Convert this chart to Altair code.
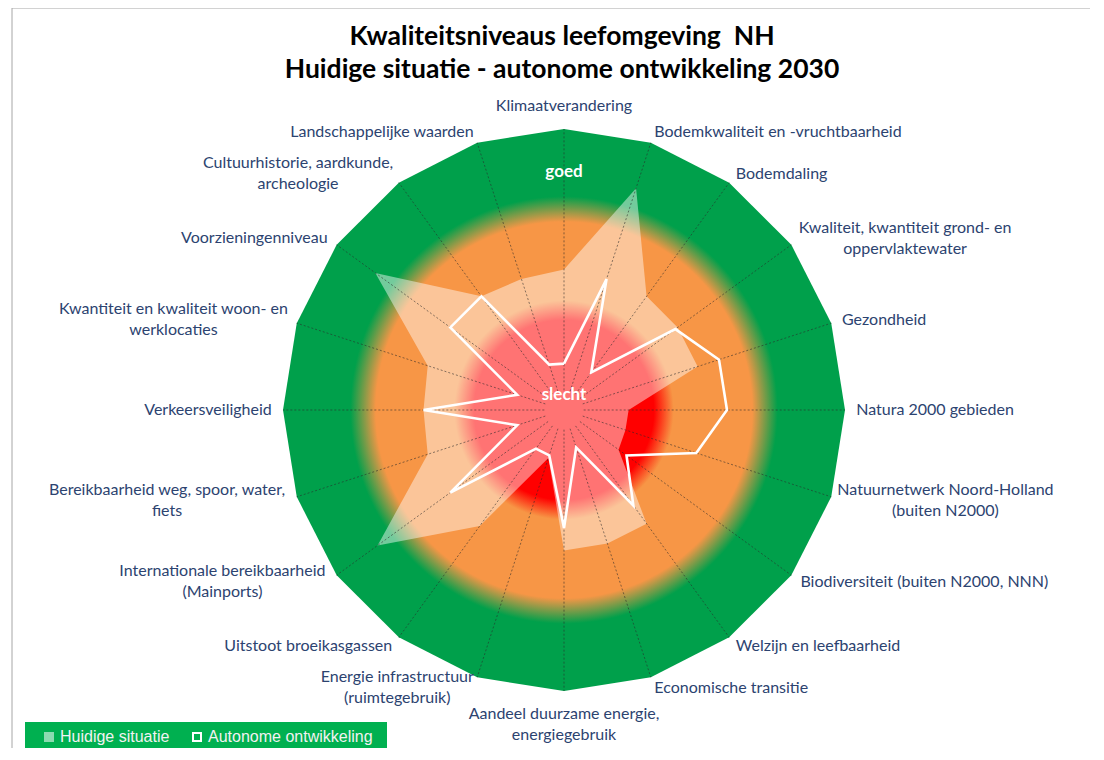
import math
import altair as alt
import pandas as pd

# ---------------- data ----------------
title_lines = ["Kwaliteitsniveaus leefomgeving\u00a0 NH",
               "Huidige situatie - autonome ontwikkeling 2030"]
categories = [
    "Klimaatverandering",
    "Bodemkwaliteit en -vruchtbaarheid",
    "Bodemdaling",
    "Kwaliteit, kwantiteit grond- en\noppervlaktewater",
    "Gezondheid",
    "Natura 2000 gebieden",
    "Natuurnetwerk Noord-Holland\n(buiten N2000)",
    "Biodiversiteit (buiten N2000, NNN)",
    "Welzijn en leefbaarheid",
    "Economische transitie",
    "Aandeel duurzame energie,\nenergiegebruik",
    "Energie infrastructuur\n(ruimtegebruik)",
    "Uitstoot broeikasgassen",
    "Internationale bereikbaarheid\n(Mainports)",
    "Bereikbaarheid weg, spoor, water,\nfiets",
    "Verkeersveiligheid",
    "Kwantiteit en kwaliteit woon- en\nwerklocaties",
    "Voorzieningenniveau",
    "Cultuurhistorie, aardkunde,\narcheologie",
    "Landschappelijke waarden",
]
huidige = [5.0, 8.3, 5.0, 5.0, 5.0, 2.3, 2.3, 2.4, 5.0, 5.0,
           5.0, 1.8, 5.1, 8.2, 5.1, 5.0, 5.1, 8.3, 5.0, 4.9]
autonoom = [1.65, 4.9, 1.65, 4.9, 5.8, 5.8, 4.95, 2.75, 4.2, 1.4,
            4.2, 1.7, 1.7, 5.0, 1.75, 5.0, 1.75, 5.0, 5.0, 1.7]
series_names = ["Huidige situatie", "Autonome ontwikkeling"]
scale_ends = ["slecht", "goed"]
MAX = 10.0

# background zones (value where colour starts / is fully reached)
zone_colors = ["#ff0000", "#f79646", "#00a04b"]
zone_full_from = [0.0, 3.9, 7.6]
zone_full_to = [3.2, 6.7, 10.0]
DISK = 8.0

# ---------------- layout ----------------
PLOT = 562
PX = PLOT / 2 / MAX
N = len(categories)
LABEL_BLUE = "#2c4370"
FONT = "Lato"
LAB_SIZE = 16

xs = alt.Scale(domain=[-MAX, MAX], nice=False, zero=False)
ys = alt.Scale(domain=[-MAX, MAX], nice=False, zero=False)


def text_px(t):
    """rough rendered width of a label line at LAB_SIZE"""
    w = 0.0
    for ch in t:
        if ch in "il.,;:' |":
            w += 3.8
        elif ch in "tfjr-() ":
            w += 5.2
        elif ch in "mwMW":
            w += 12.5
        elif ch.isupper() or ch.isdigit():
            w += 10.5 if ch.isupper() else 8.8
        else:
            w += 8.6
    return w


def ring_df(values, series):
    rows = []
    for k in range(N + 1):
        i = k % N
        rows.append({"series": series, "ord": k, "i": i, "v": values[i]})
    return pd.DataFrame(rows)


def polar(chart):
    return chart.transform_calculate(
        x=f"datum.v * sin(2 * PI * datum.i / {N})",
        y=f"datum.v * cos(2 * PI * datum.i / {N})",
    )


X = alt.X("x:Q", scale=xs, axis=None)
Y = alt.Y("y:Q", scale=ys, axis=None)

# outer green polygon
outer = polar(alt.Chart(ring_df([MAX] * N, "outer"))).mark_line(
    fill=zone_colors[2], strokeWidth=0
).encode(x=X, y=Y, order="ord:Q")

# radial gradient disk (red - orange - green)
stops = [
    alt.GradientStop(color=zone_colors[0], offset=0),
    alt.GradientStop(color=zone_colors[0], offset=zone_full_to[0] / DISK),
    alt.GradientStop(color=zone_colors[1], offset=zone_full_from[1] / DISK),
    alt.GradientStop(color=zone_colors[1], offset=zone_full_to[1] / DISK),
    alt.GradientStop(color=zone_colors[2], offset=zone_full_from[2] / DISK),
    alt.GradientStop(color=zone_colors[2], offset=1),
]
grad = alt.Gradient(gradient="radial", stops=stops, x1=0.5, y1=0.5, r1=0,
                    x2=0.5, y2=0.5, r2=0.5)
disk = alt.Chart(pd.DataFrame({"x": [0.0], "y": [0.0]})).mark_arc(
    theta=0, theta2=2 * math.pi, radius=DISK * PX, radius2=0, fill=grad,
    strokeWidth=0
).encode(x=X, y=Y)

LEG_Y = 600
leg_common = dict(orient="none", legendY=LEG_Y, title=None, direction="horizontal",
                  symbolType="square", padding=0, labelFont="Liberation Sans",
                  labelFontSize=16, labelColor="#f2f2f2", labelLimit=400)

# Huidige situatie (semi transparent white polygon)
cur = polar(alt.Chart(ring_df(huidige, series_names[0]))).mark_line(
    strokeWidth=0, fillOpacity=0.45
).encode(
    x=X, y=Y, order="ord:Q",
    fill=alt.Fill("series:N", scale=alt.Scale(domain=[series_names[0]], range=["#ffffff"]),
                  legend=alt.Legend(legendX=-242, symbolSize=100, symbolOpacity=0.55,
                                    symbolStrokeWidth=0, labelOffset=3, **leg_common)),
)

# dotted spokes
spokes = alt.Chart(pd.DataFrame({"i": list(range(N))})).transform_calculate(
    x0=f"0.7 * sin(2 * PI * datum.i / {N})",
    y0=f"0.7 * cos(2 * PI * datum.i / {N})",
    xe=f"{MAX} * sin(2 * PI * datum.i / {N})",
    ye=f"{MAX} * cos(2 * PI * datum.i / {N})",
).mark_rule(color="#2a2a2a", strokeWidth=0.8, strokeDash=[2, 2], opacity=0.7).encode(
    x=alt.X("x0:Q", scale=xs, axis=None), y=alt.Y("y0:Q", scale=ys, axis=None),
    x2="xe:Q", y2="ye:Q",
)

# Autonome ontwikkeling (white outline)
aut = polar(alt.Chart(ring_df(autonoom, series_names[1]))).mark_line(
    strokeWidth=2.6, strokeJoin="miter"
).encode(
    x=X, y=Y, order="ord:Q",
    stroke=alt.Stroke("series:N", scale=alt.Scale(domain=[series_names[1]], range=["#ffffff"]),
                      legend=alt.Legend(legendX=-94, symbolSize=64, symbolStrokeWidth=2,
                                        symbolFillColor="transparent", labelOffset=3,
                                        **leg_common)),
)

# category labels
LAB_R = 1.04 * MAX
rows = []
for i, name in enumerate(categories):
    a = 2 * math.pi * i / N
    s, c = math.sin(a), math.cos(a)
    lines = name.split("\n")
    hw = max(text_px(t) for t in lines) / 2 / PX
    x, y = LAB_R * s, LAB_R * c
    if abs(s) < 1e-6:
        grp = "top" if c > 0 else "bottom"
        y = 1.055 * MAX * (1 if c > 0 else -1)
    elif len(lines) > 1:
        grp = "center"
        x = x + (hw if s > 0 else -hw)
    else:
        grp = "left" if s > 0 else "right"
    rows.append({"label": name, "grp": grp, "x": x, "y": y})
lab_df = pd.DataFrame(rows)

LH = 21
groups = {"left": ("left", "middle", 0), "right": ("right", "middle", 0),
          "center": ("center", "middle", -LH / 2), "top": ("center", "bottom", 0),
          "bottom": ("center", "top", 0)}
label_layers = []
for g, (al, bl, dy) in groups.items():
    label_layers.append(
        alt.Chart(lab_df).transform_filter(alt.datum.grp == g).mark_text(
            align=al, baseline=bl, dy=dy, font=FONT, fontSize=LAB_SIZE, color=LABEL_BLUE,
            lineBreak="\n", lineHeight=LH
        ).encode(x=X, y=Y, text="label:N")
    )

# goed / slecht
ends = alt.Chart(pd.DataFrame({"t": scale_ends, "i": [0, 0], "v": [0.55, 8.47]}))
ends = polar(ends).mark_text(font=FONT, fontSize=17, fontWeight="bold", color="white",
                             baseline="middle").encode(x=X, y=Y, text="t:N")

# title (as text, placed above the plot)
title = alt.Chart(pd.DataFrame({"t": ["\n".join(title_lines)]})).mark_text(
    font=FONT, fontSize=26.5, fontWeight="bold", color="black", align="center",
    baseline="middle", lineBreak="\n", lineHeight=33
).encode(x=alt.value(279), y=alt.value(-92), text="t:N")

# frame + legend box (decoration)
one = pd.DataFrame({"a": [0]})
frame_top = alt.Chart(one).mark_rule(color="#a6a6a6", strokeWidth=1).encode(
    x=alt.value(-271), x2=alt.value(830), y=alt.value(-121))
frame_left = alt.Chart(one).mark_rule(color="#a6a6a6", strokeWidth=1).encode(
    x=alt.value(-271), y=alt.value(-121), y2=alt.value(640))
leg_box = alt.Chart(one).mark_rect(color="#00b050").encode(
    x=alt.value(-258), x2=alt.value(104), y=alt.value(593), y2=alt.value(619))

chart = alt.layer(
    frame_top, frame_left, outer, disk, cur, spokes, aut, *label_layers, ends, title, leg_box
).resolve_legend(fill="independent", stroke="independent").properties(
    width=PLOT, height=PLOT,
    padding={"left": 275, "top": 121, "right": 245, "bottom": 57},
    autosize=alt.AutoSizeParams(type="none"),
    background="white",
).configure_view(stroke=None)

chart.save("out.html", embed_options={"renderer": "svg", "actions": False})
